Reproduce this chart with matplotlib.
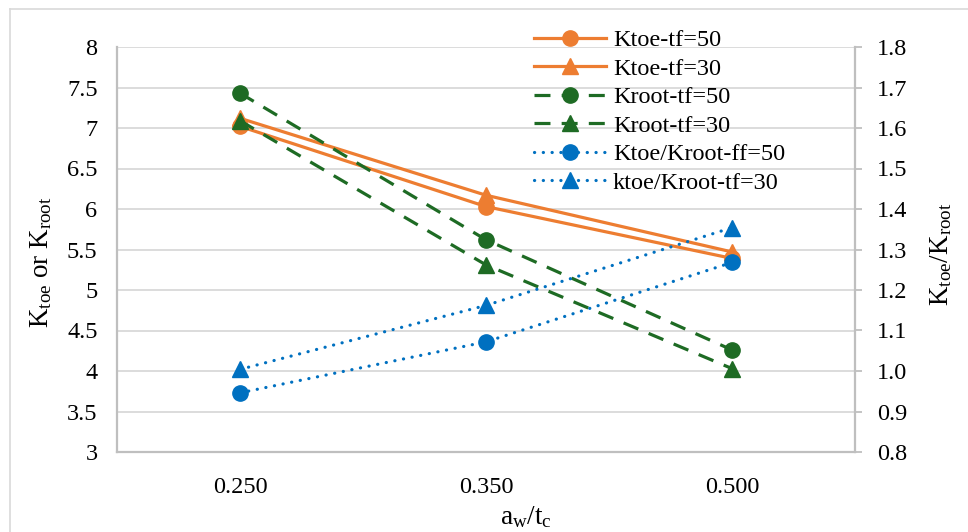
import numpy as np
import matplotlib
matplotlib.use("Agg")
import matplotlib.pyplot as plt
from matplotlib.lines import Line2D

plt.rcParams['font.family'] = ['Liberation Serif', 'DejaVu Serif']
plt.rcParams['mathtext.fontset'] = 'custom'
plt.rcParams['mathtext.rm'] = 'Liberation Serif'
plt.rcParams['mathtext.it'] = 'Liberation Serif:italic'

# aw/tc categories
ratios = ['0.250', '0.350', '0.500']

# stress concentration factors (left axis)
ktoe_tf50 = [7.02, 6.03, 5.39]
ktoe_tf30 = [7.12, 6.17, 5.47]
kroot_tf50 = [7.43, 5.62, 4.26]
kroot_tf30 = [7.09, 5.31, 4.03]

# Ktoe/Kroot (right axis)
ratio_tf50 = [0.946, 1.072, 1.268]
ratio_tf30 = [1.004, 1.162, 1.354]

left_ticks = [3, 3.5, 4, 4.5, 5, 5.5, 6, 6.5, 7, 7.5, 8]
left_labels = ['3', '3.5', '4', '4.5', '5', '5.5', '6', '6.5', '7', '7.5', '8']
right_ticks = [0.8, 0.9, 1.0, 1.1, 1.2, 1.3, 1.4, 1.5, 1.6, 1.7, 1.8]

ORANGE = '#ED7D31'
GREEN = '#1E6B24'
BLUE = '#0070C0'
GRID = '#d9d9d9'
AXIS = '#bfbfbf'
FS = 17.5
FS_LABEL = 19.5

W, H = 968, 532
fig = plt.figure(figsize=(W / 100, H / 100), dpi=100)
ax = fig.add_axes([117 / W, 1 - 452 / H, 738 / W, 405 / H])
ax2 = ax.twinx()

x = np.arange(len(ratios))

# outer chart border
fig.add_artist(Line2D([10 / W, 10 / W], [0, 1 - 9 / H], transform=fig.transFigure, color='#d9d9d9', lw=1.2))
fig.add_artist(Line2D([10 / W, 1], [1 - 9 / H, 1 - 9 / H], transform=fig.transFigure, color='#d9d9d9', lw=1.2))

lw = 2.3
ms = 11
dash = (0, (5, 3.5))
dot = (0, (0.05, 2.7))

h1, = ax.plot(x, ktoe_tf50, color=ORANGE, lw=lw, marker='o', ms=ms, label='Ktoe-tf=50')
h2, = ax.plot(x, ktoe_tf30, color=ORANGE, lw=lw, marker='^', ms=ms, label='Ktoe-tf=30')
h3, = ax.plot(x, kroot_tf50, color=GREEN, lw=lw, ls=dash, marker='o', ms=ms, label='Kroot-tf=50')
h4, = ax.plot(x, kroot_tf30, color=GREEN, lw=lw, ls=dash, marker='^', ms=ms, label='Kroot-tf=30')
h5, = ax2.plot(x, ratio_tf50, color=BLUE, lw=lw, ls=dot, dash_capstyle='round', marker='o', ms=ms,
               label='Ktoe/Kroot-ff=50')
h6, = ax2.plot(x, ratio_tf30, color=BLUE, lw=lw, ls=dot, dash_capstyle='round', marker='^', ms=ms,
               label='ktoe/Kroot-tf=30')

ax.set_xlim(-0.5, 2.5)
ax.set_ylim(3, 8)
ax2.set_ylim(0.8, 1.8)

ax.set_yticks(left_ticks)
ax.set_yticklabels(left_labels)
ax.set_xticks(x)
ax.set_xticklabels(ratios)
ax.yaxis.grid(True, color=GRID, lw=1.3)
ax.set_axisbelow(True)
ax.tick_params(axis='y', length=0, pad=14, labelsize=FS)
ax.tick_params(axis='x', length=0, pad=18, labelsize=FS)

ax2.set_yticks(right_ticks)
ax2.set_yticklabels(['%.1f' % t for t in right_ticks])
ax2.tick_params(axis='y', length=5, width=1.3, color=AXIS, pad=11, labelsize=FS)

for a in (ax, ax2):
    a.spines['top'].set_visible(False)
    for s in ('left', 'bottom', 'right'):
        a.spines[s].set_color(AXIS)
        a.spines[s].set_linewidth(1.6)
ax.spines['right'].set_visible(False)
ax2.spines['left'].set_visible(False)
ax2.spines['bottom'].set_visible(False)

fig.text(41 / W, 1 - 262 / H, r'$\mathregular{K_{toe}\ or\ K_{root}}$', rotation=90,
         ha='center', va='center', fontsize=FS_LABEL)
fig.text(941 / W, 1 - 254 / H, r'$\mathregular{K_{toe}/K_{root}}$', rotation=90,
         ha='center', va='center', fontsize=FS_LABEL)
fig.text(526 / W, 1 - 517 / H, r'$\mathregular{a_{w}/t_{c}}$', ha='center', va='center', fontsize=FS_LABEL)

leg = ax2.legend(handles=[h1, h2, h3, h4, h5, h6], loc='upper left',
                 bbox_to_anchor=(534 / W, 1 - 29 / H), bbox_transform=fig.transFigure,
                 frameon=False, fontsize=FS, handlelength=2.96, handletextpad=0.29,
                 labelspacing=0.27, borderpad=0, borderaxespad=0)

fig.savefig('out.png', dpi=100)
